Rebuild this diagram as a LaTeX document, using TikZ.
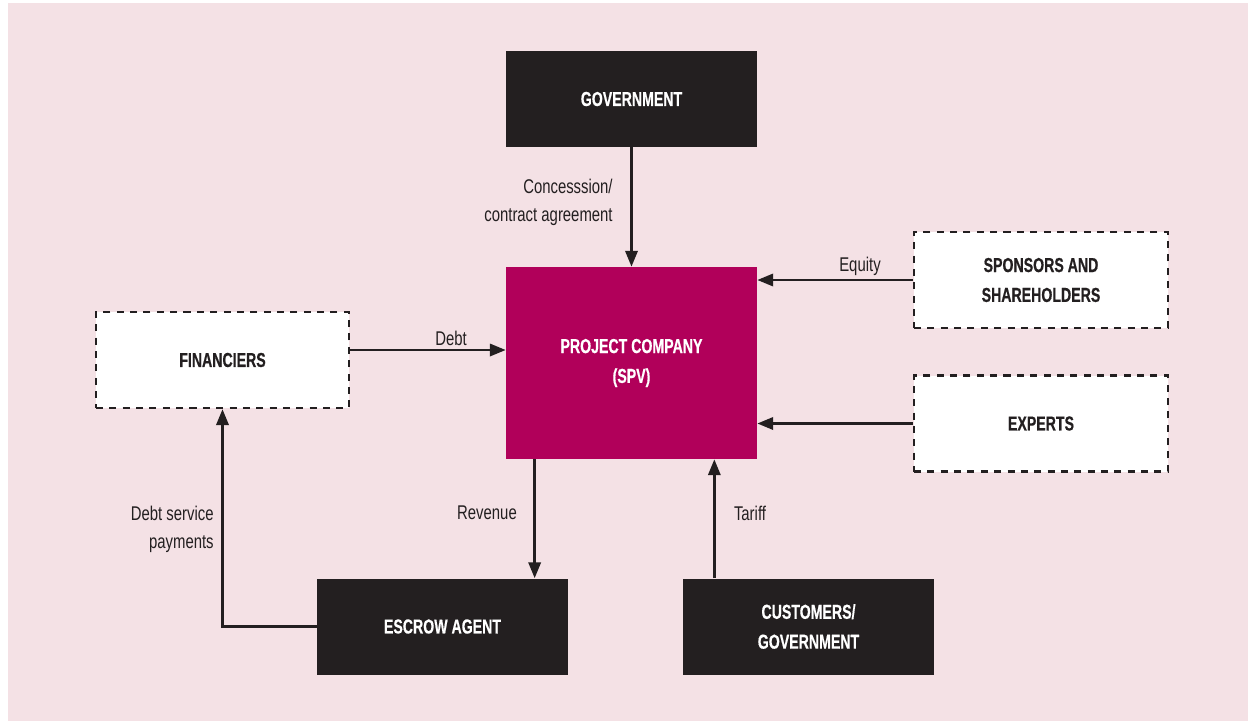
\documentclass[tikz,border=0pt]{standalone}
\usepackage{fontspec}
\setmainfont[FakeStretch=0.75, BoldFeatures={FakeStretch=0.7, FakeBold=0.5}]{Liberation Sans}
\usetikzlibrary{arrows.meta}

\definecolor{bgpink}{HTML}{F4E1E5}
\definecolor{boxblack}{HTML}{231F20}
\definecolor{spvred}{HTML}{B1005A}

\tikzset{
    darkbox/.style={fill=boxblack, text=white, font=\bfseries\fontsize{11.5}{17}\selectfont,
        minimum width=5.02cm, minimum height=1.92cm, align=center, inner sep=0pt},
    openbox/.style={draw=boxblack, fill=white, line width=1.4pt, dash pattern=on 4pt off 3.6pt,
        text=boxblack, font=\bfseries\fontsize{11.5}{17}\selectfont,
        minimum width=5.08cm, minimum height=1.92cm, align=center, inner sep=0pt},
    flow/.style={draw=boxblack, line width=1.4pt, -{Triangle[length=9pt,width=7pt]}},
    flowlabel/.style={text=boxblack, font=\fontsize{11.3}{16}\selectfont, inner sep=0pt}
}

\begin{document}
\begin{tikzpicture}[x=0.02cm, y=-0.02cm]
    % Background panel
    \useasboundingbox (0, 0) rectangle (1248, 721);
    \fill[white] (0, 0) rectangle (1248, 721);
    \fill[bgpink] (8, 3) rectangle (1248, 721);

    % Boxes
    \node[darkbox] (gov) at (631.5, 99) {GOVERNMENT};
    \node[darkbox, fill=spvred, minimum height=3.84cm] (spv) at (631.5, 363) {PROJECT COMPANY\\(SPV)};
    \node[openbox] (sponsors) at (1041, 280) {SPONSORS AND\\SHAREHOLDERS};
    \node[openbox] (experts) at (1041, 423.5) {EXPERTS};
    \node[openbox, minimum width=5.06cm] (fin) at (222.5, 360) {FINANCIERS};
    \node[darkbox] (escrow) at (442.5, 626.5) {ESCROW AGENT};
    \node[darkbox] (cust) at (808.5, 626.5) {CUSTOMERS/\\GOVERNMENT};

    % Flows into the project company
    \draw[flow] (gov.south) -- (spv.north);
    \draw[flow] (sponsors.west) -- (sponsors.west -| spv.east);
    \draw[flow] (experts.west) -- (experts.west -| spv.east);
    \draw[flow] ([yshift=0.2cm]fin.east) -- ([yshift=0.2cm]fin.east -| spv.west);
    \draw[flow] ([xshift=-0.86cm]spv.south east |- cust.north) -- ([xshift=-0.86cm]spv.south east);

    % Flows out of the project company
    \draw[flow] ([xshift=0.58cm]spv.south west) -- ([xshift=0.58cm]spv.south west |- escrow.north);
    \draw[flow] (escrow.west) -| (fin.south);

    % Labels
    \node[flowlabel, anchor=east, align=right] (conlbl) at (613, 202) {Concesssion/\\contract agreement};
    \node[flowlabel] (eqlbl) at (860, 266) {Equity};
    \node[flowlabel] (debtlbl) at (451, 338) {Debt};
    \node[flowlabel] (revlbl) at (487, 513) {Revenue};
    \node[flowlabel] (tarlbl) at (750, 513) {Tariff};
    \node[flowlabel, anchor=east, align=right] (dsplbl) at (214, 529) {Debt service\\payments};
\end{tikzpicture}
\end{document}
